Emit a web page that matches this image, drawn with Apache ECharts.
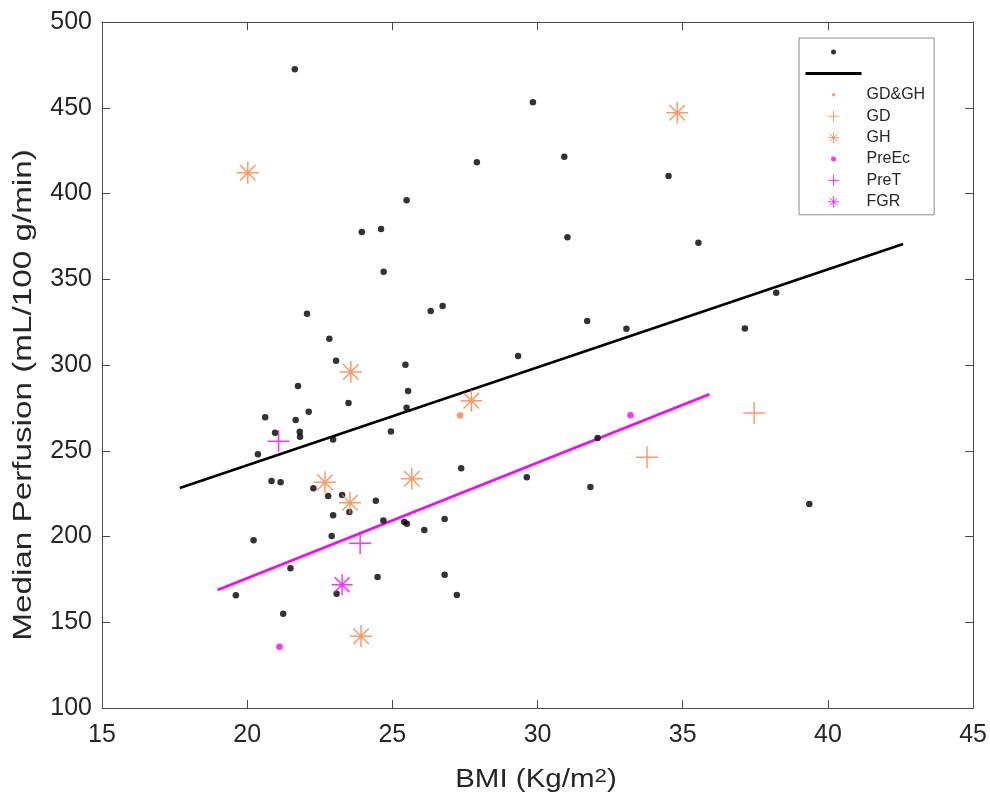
<!DOCTYPE html>
<html>
<head>
<meta charset="utf-8">
<script src="https://cdn.jsdelivr.net/npm/echarts@6/dist/echarts.min.js"></script>
<style>
html,body{margin:0;padding:0;background:#fff;}
#chart{width:990px;height:796px;}
</style>
</head>
<body>
<div id="chart"></div>
<script>
// ---- Data ----
const xTicks = [15, 20, 25, 30, 35, 40, 45];
const yTicks = [100, 150, 200, 250, 300, 350, 400, 450, 500];

const allPoints = [
  [21.64,472.4],[27.91,418.2],[25.49,396.0],[23.95,377.6],[24.61,379.3],[24.70,354.4],
  [22.06,329.9],[26.32,331.5],[26.73,334.4],[22.83,315.3],[23.06,302.5],[25.45,300.2],
  [21.75,287.8],[25.54,284.8],[23.49,277.8],[25.49,275.1],[22.12,272.8],[20.62,269.5],
  [21.67,267.9],[20.96,260.5],[21.81,261.1],[21.82,258.2],[22.96,256.6],[24.95,261.2],
  [20.37,247.9],[20.84,232.4],[21.15,231.6],[22.28,228.1],[22.79,223.6],[23.27,224.2],
  [23.52,214.3],[22.96,212.4],[27.37,239.8],[24.43,220.9],[24.69,209.4],[25.41,208.5],
  [25.50,207.5],[26.10,203.8],[26.80,210.2],[22.91,200.3],[20.22,197.8],[21.49,181.5],
  [23.08,166.6],[24.49,176.4],[26.80,177.7],[27.22,165.9],[19.61,165.7],[21.24,155.0],
  [29.84,453.2],[30.92,421.5],[34.51,410.2],[31.03,374.5],[35.54,371.3],[38.22,342.2],
  [31.71,325.6],[33.06,321.1],[37.14,321.3],[29.33,305.2],[32.07,257.4],[29.63,234.5],
  [31.82,228.9],[39.36,218.9]
];
const gdghPoints = [[27.33,270.6]];
const gdPoints = [[33.77,246.2],[37.46,272.0]];
const ghPoints = [[20.02,412.1],[34.81,447.1],[23.57,295.9],[27.72,279.2],[22.68,231.6],[23.54,219.7],[25.67,233.7],[23.92,141.8]];
const preEcPoints = [[21.11,135.7],[33.20,270.7]];
const preTPoints = [[21.08,255.5],[23.89,196.0]];
const fgrPoints = [[23.27,171.9]];

const fitAll = [[17.68,228.3],[42.59,370.6]];
const fitPre = [[18.98,168.8],[35.92,282.9]];

const legendNames = [' ', '  ', 'GD&GH', 'GD', 'GH', 'PreEc', 'PreT', 'FGR'];

// ---- Styles ----
const FONT = '"Liberation Sans", Arial, Helvetica, sans-serif';
const TXT = '#262626';
const AXC = '#4a4a4a';
const ORANGE = '#FF7F3F';
const MAGENTA = '#FF00FF';
const PLUS = 'path://M11,0L11,22M0,11L22,11';
const STAR = 'path://M11,0L11,22M0,11L22,11M3.22,3.22L18.78,18.78M3.22,18.78L18.78,3.22';
function dot(r){ return 'path://M0,0M22,22M' + (11 - r) + ',11a' + r + ',' + r + ' 0 1,0 ' + (2*r) + ',0a' + r + ',' + r + ' 0 1,0 ' + (-2*r) + ',0Z'; }
const CLEAR = 'rgba(0,0,0,0)';

function xAx(pos, showLabel){
  return {
    type:'value', position:pos, min:xTicks[0], max:xTicks[xTicks.length-1], interval:5,
    axisLine:{show:true, onZero:false, lineStyle:{color:AXC, width:1}},
    axisTick:{show:true, inside:true, length:8, lineStyle:{color:AXC, width:1}},
    axisLabel:{show:showLabel, fontSize:25, color:TXT, fontFamily:FONT, margin:15},
    splitLine:{show:false}
  };
}
function yAx(pos, showLabel){
  return {
    type:'value', position:pos, min:yTicks[0], max:yTicks[yTicks.length-1], interval:50,
    axisLine:{show:true, onZero:false, lineStyle:{color:AXC, width:1}},
    axisTick:{show:true, inside:true, length:8, lineStyle:{color:AXC, width:1}},
    axisLabel:{show:showLabel, fontSize:25, color:TXT, fontFamily:FONT, margin:10},
    splitLine:{show:false}
  };
}
function pathScatter(name, data, sym, color, size){
  return {
    type:'scatter', name:name, data:data, symbol:sym, symbolSize:size,
    itemStyle:{color:CLEAR, borderColor:color, borderWidth:1.5},
    emphasis:{disabled:true}, z:5
  };
}

const chart = echarts.init(document.getElementById('chart'), null, {renderer:'canvas'});
const option = {
  animation:false,
  backgroundColor:'#ffffff',
  grid:{left:102, right:16, top:22, bottom:88},
  xAxis:[xAx('bottom', true), xAx('top', false)],
  yAxis:[yAx('left', true), yAx('right', false)],
  legend:{
    orient:'vertical', left:799, top:38,
    itemWidth:56, itemHeight:11, itemGap:5.4,
    padding:[6,9,5,5],
    borderColor:'#8c8c8c', borderWidth:1, backgroundColor:'#ffffff',
    selectedMode:false,
    textStyle:{fontSize:16, color:TXT, fontFamily:FONT, lineHeight:16},
    data:[
      {name:legendNames[0], icon:dot(5), itemStyle:{color:'#000', borderWidth:0}},
      {name:legendNames[1], lineStyle:{color:'#000', width:3}, itemStyle:{color:CLEAR, borderColor:CLEAR, borderWidth:0}},
      {name:legendNames[2], icon:dot(3.5), itemStyle:{color:ORANGE, borderWidth:0}},
      {name:legendNames[3], icon:PLUS, itemStyle:{color:CLEAR, borderColor:ORANGE, borderWidth:1}},
      {name:legendNames[4], icon:STAR, itemStyle:{color:CLEAR, borderColor:ORANGE, borderWidth:1}},
      {name:legendNames[5], icon:dot(5), itemStyle:{color:MAGENTA, borderWidth:0}},
      {name:legendNames[6], icon:PLUS, itemStyle:{color:CLEAR, borderColor:MAGENTA, borderWidth:1}},
      {name:legendNames[7], icon:STAR, itemStyle:{color:CLEAR, borderColor:MAGENTA, borderWidth:1}}
    ]
  },
  graphic:[
    {type:'text', x:24, y:395, rotation:Math.PI/2, scaleX:1.33,
     style:{text:'Median Perfusion (mL/100 g/min)', fontSize:25, fontFamily:FONT, fill:TXT, align:'center', verticalAlign:'middle'}},
    {type:'text', x:536, y:780, scaleX:1.18,
     style:{text:'{n|BMI (Kg/m}{s|2}{n|)}', fill:TXT, align:'center', verticalAlign:'middle',
       rich:{n:{fontSize:25, fontFamily:FONT, fill:TXT, lineHeight:25},
             s:{fontSize:19, fontFamily:FONT, fill:TXT, lineHeight:2, verticalAlign:'top'}}}}
  ],
  series:[
    {type:'line', name:legendNames[1], data:fitAll, symbol:'none', showSymbol:false,
     lineStyle:{color:'#000', width:2.6}, itemStyle:{color:'#000'}, emphasis:{disabled:true}, z:2},
    {type:'line', name:'PreFit', data:fitPre, symbol:'none', showSymbol:false,
     lineStyle:{color:MAGENTA, width:2.6}, itemStyle:{color:MAGENTA}, emphasis:{disabled:true}, z:2},
    {type:'scatter', name:legendNames[0], data:allPoints, symbol:'circle', symbolSize:6.5,
     itemStyle:{color:'#000'}, emphasis:{disabled:true}, z:4},
    {type:'scatter', name:legendNames[2], data:gdghPoints, symbol:'circle', symbolSize:6.5,
     itemStyle:{color:ORANGE}, emphasis:{disabled:true}, z:5},
    pathScatter(legendNames[3], gdPoints, PLUS, ORANGE, 22),
    pathScatter(legendNames[4], ghPoints, STAR, ORANGE, 22),
    {type:'scatter', name:legendNames[5], data:preEcPoints, symbol:'circle', symbolSize:6.5,
     itemStyle:{color:MAGENTA}, emphasis:{disabled:true}, z:5},
    pathScatter(legendNames[6], preTPoints, PLUS, MAGENTA, 22),
    pathScatter(legendNames[7], fgrPoints, STAR, MAGENTA, 21)
  ]
};
chart.setOption(option);
</script>
</body>
</html>
